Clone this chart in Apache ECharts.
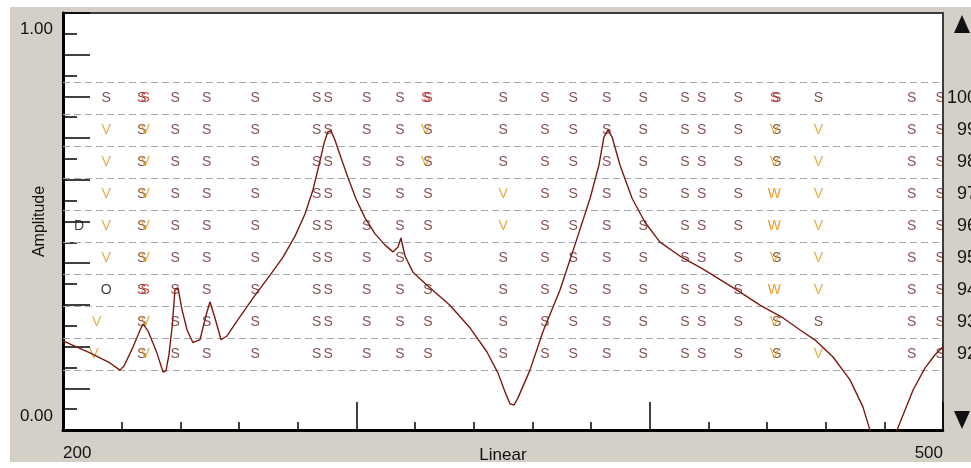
<!DOCTYPE html>
<html><head><meta charset="utf-8">
<script src="https://cdn.jsdelivr.net/npm/echarts@6/dist/echarts.min.js"></script>
<style>html,body{margin:0;padding:0;background:#fff;}#c{width:971px;height:468px;}</style>
</head><body><div id="c"></div>
<script>
// ---- data ----
const rowLabels = ['100','99','98','97','96','95','94','93','92'];           // top -> bottom
const xTickLabels = {200: '200', 500: '500'};
const yTickLabels = [[0, '0.00'], [1, '1.00']];

// marker columns: frequency and letter per row (100..92), '.' = none, 'R' = red S
const markFreqs = [205.5, 214.7, 211.5, 210.5, 226.8, 228.0, 238.2, 249.0, 265.5, 286.5,
                   290.4, 303.5, 314.9, 324.4, 323.6, 350.1, 364.3, 373.9, 385.3, 397.8,
                   412.0, 417.7, 430.2, 443.3, 442.5, 457.5, 489.3, 499.0];
const markLetters = ['....D....', 'SVVVVVO..', '.......V.', '........V', 'SSSSSSSSS',
                     'RVVVVVRVV', 'SSSSSSSSS', 'SSSSSSSSS', 'SSSSSSSSS', 'SSSSSSSSS',
                     'SSSSSSSSS', 'SSSSSSSSS', 'SSSSSSSSS', 'SSSSSSSSS', 'RVV......',
                     'SSSVVSSSS', 'SSSSSSSSS', 'SSSSSSSSS', 'SSSSSSSSS', 'SSSSSSSSS',
                     'SSSSSSSSS', 'SSSSSSSSS', 'SSSSSSSSS', 'SSS..S.SS', 'RVVWWVWVV',
                     'SVVVVVVSV', 'SSSSSSSSS', 'SSSSSSSSS'];

const curveFreq = [200.0, 209.2, 216.0, 219.4, 220.8, 223.9, 226.3, 227.3, 229.0, 232.0,
  234.1, 235.1, 236.1, 237.2, 238.2, 239.2, 240.6, 242.3, 244.3, 246.7,
  248.8, 250.1, 251.8, 253.9, 255.9, 260.3, 265.5, 270.6, 275.0, 279.1,
  282.5, 285.2, 287.3, 289.0, 290.3, 291.4, 292.7, 294.8, 297.2, 299.9,
  303.0, 306.4, 309.8, 312.5, 314.2, 315.2, 316.6, 319.3, 324.4, 331.9,
  338.8, 344.5, 348.3, 350.7, 352.4, 353.8, 355.1, 359.2, 363.6, 369.4,
  374.5, 379.7, 382.7, 384.4, 385.8, 387.2, 389.9, 394.0, 398.4, 403.5,
  410.3, 418.2, 429.8, 437.6, 445.5, 451.3, 456.4, 462.5, 468.3, 472.7,
  475.1, 479.2, 484.3, 489.8, 493.9, 497.3, 500.0];
const curveAmp = [0.182, 0.150, 0.123, 0.104, 0.115, 0.166, 0.211, 0.227, 0.208, 0.150,
  0.099, 0.102, 0.144, 0.219, 0.320, 0.323, 0.264, 0.211, 0.177, 0.185,
  0.251, 0.286, 0.243, 0.185, 0.195, 0.246, 0.304, 0.357, 0.405, 0.461,
  0.520, 0.584, 0.651, 0.709, 0.739, 0.741, 0.717, 0.669, 0.616, 0.560,
  0.509, 0.467, 0.437, 0.419, 0.432, 0.456, 0.408, 0.365, 0.328, 0.277,
  0.216, 0.153, 0.096, 0.046, 0.014, 0.011, 0.030, 0.104, 0.206, 0.317,
  0.437, 0.562, 0.650, 0.725, 0.744, 0.725, 0.650, 0.562, 0.498, 0.445,
  0.408, 0.373, 0.317, 0.277, 0.243, 0.211, 0.184, 0.139, 0.078, 0.006,
  -0.056, -0.162, -0.056, 0.051, 0.110, 0.145, 0.166];

// ---- styles ----
const FONT = '"Liberation Sans", Arial, sans-serif';
const GRAY = '#d4d0c8';
const letterStyle = {
  S: {text: 'S', color: '#6a2424'},
  R: {text: 'S', color: '#d21e1e'},
  V: {text: 'V', color: '#d99e14'},
  W: {text: 'W', color: '#e88400'},
  O: {text: 'O', color: '#111'},
  D: {text: 'D', color: '#111'}
};

const rowCats = rowLabels.slice().reverse();
const markSeries = Object.keys(letterStyle).map(code => {
  const data = [];
  markFreqs.forEach((f, i) => {
    for (let j = 0; j < rowLabels.length; j++) {
      if (markLetters[i][j] === code) data.push([f, rowLabels[j]]);
    }
  });
  return {
    type: 'scatter', xAxisIndex: 2, yAxisIndex: 2, z: 2, silent: true, clip: false,
    symbol: 'circle', symbolSize: 1, itemStyle: {color: 'rgba(0,0,0,0)'},
    label: {show: true, position: 'inside', formatter: letterStyle[code].text,
            color: letterStyle[code].color, fontSize: 14, fontFamily: FONT, offset: [0, 2]},
    labelLayout: {hideOverlap: false},
    data
  };
});

const chart = echarts.init(document.getElementById('c'), null, {renderer: 'canvas'});
const option = {
  backgroundColor: GRAY,
  animation: false,
  textStyle: {fontFamily: FONT},
  grid: [
    {left: 63, right: 28, top: 13, bottom: 38, show: true, backgroundColor: '#fff',
     borderColor: '#3c3c3c', borderWidth: 2, containLabel: false, outerBoundsMode: 'none'},
    {left: 63, right: 28, top: 82, height: 288, show: false, containLabel: false, outerBoundsMode: 'none'}
  ],
  xAxis: [
    {gridIndex: 0, type: 'value', min: 200, max: 500, interval: 20, position: 'bottom',
     axisLine: {show: true, onZero: false, lineStyle: {color: '#000', width: 3}},
     axisTick: {show: true, inside: true, length: 8, lineStyle: {color: '#000', width: 1.5}},
     splitLine: {show: false},
     axisLabel: {show: true, margin: 15, fontSize: 17, color: '#111', fontFamily: FONT,
                 formatter: v => xTickLabels[Math.round(v)] && Math.abs(v - Math.round(v)) < 1e-6 ? xTickLabels[Math.round(v)] : '',
                 alignMinLabel: 'left', alignMaxLabel: 'right'},
     name: 'Linear', nameLocation: 'middle', nameGap: 25, nameMoveOverlap: false,
     nameTextStyle: {fontSize: 17, color: '#111', fontFamily: FONT, verticalAlign: 'middle'}},
    {gridIndex: 0, type: 'value', min: 200, max: 500, interval: 100, position: 'bottom',
     axisLine: {show: false, onZero: false},
     axisTick: {show: true, inside: true, length: 28, lineStyle: {color: '#000', width: 1.5}},
     axisLabel: {show: false}, splitLine: {show: false}},
    {gridIndex: 1, type: 'value', min: 200, max: 500, show: false}
  ],
  yAxis: [
    {gridIndex: 0, type: 'value', min: -1/18, max: 19/18, interval: 1/18, position: 'left',
     axisLine: {show: true, onZero: false, lineStyle: {color: '#000', width: 3}},
     axisTick: {show: true, inside: true, length: 14, lineStyle: {color: '#000', width: 1.5}},
     splitLine: {show: false},
     axisLabel: {show: true, margin: 10, fontSize: 17, color: '#111', fontFamily: FONT,
       formatter: v => {
         for (const [val, txt] of yTickLabels) {
           if (Math.abs(v - val) < 1e-6) return (val === 0 ? '{lo|' : '{hi|') + txt + '}';
         }
         return '';
       },
       rich: {lo: {fontSize: 17, color: '#111', fontFamily: FONT, padding: [14, 0, 0, 0]},
              hi: {fontSize: 17, color: '#111', fontFamily: FONT, padding: [0, 0, 9, 0]}}},
     name: 'Amplitude', nameLocation: 'middle', nameGap: 23, nameMoveOverlap: false,
     nameTextStyle: {fontSize: 16, color: '#111', fontFamily: FONT, verticalAlign: 'middle'}},
    {gridIndex: 0, type: 'value', min: 0, max: 20, interval: 2, position: 'left',
     axisLine: {show: false, onZero: false},
     axisTick: {show: true, inside: true, length: 27, lineStyle: {color: '#000', width: 1.5}},
     axisLabel: {show: false}, splitLine: {show: false}},
    {gridIndex: 1, type: 'category', data: rowCats, position: 'right', z: 1,
     axisLine: {show: false}, axisTick: {show: false}, axisLabel: {show: false},
     splitLine: {show: true, interval: 0, lineStyle: {color: '#a2a8b2', width: 1, type: [7, 4]}}},
    {gridIndex: 1, type: 'category', data: rowCats, position: 'right', z: 10,
     axisLine: {show: false}, axisTick: {show: false}, splitLine: {show: false},
     axisLabel: {show: true, interval: 0, margin: 34, align: 'right', fontSize: 18,
                 color: '#111', fontFamily: FONT}}
  ],
  series: markSeries.concat([
    {type: 'line', xAxisIndex: 0, yAxisIndex: 0, z: 3, silent: true, clip: true,
     showSymbol: false, symbol: 'none',
     lineStyle: {color: '#7d1a10', width: 1.4},
     data: curveFreq.map((f, i) => [f, curveAmp[i]])}
  ]),
  graphic: [
    {type: 'rect', shape: {x: 944.5, y: 0, width: 30, height: 468}, style: {fill: GRAY}, z: 5, silent: true},
    {type: 'rect', shape: {x: 0, y: 0, width: 10, height: 468}, style: {fill: '#fff'}, z: 20, silent: true},
    {type: 'rect', shape: {x: 0, y: 0, width: 971, height: 7}, style: {fill: '#fff'}, z: 20, silent: true},
    {type: 'rect', shape: {x: 0, y: 462, width: 971, height: 6}, style: {fill: '#fff'}, z: 20, silent: true},
    {type: 'polygon', shape: {points: [[954, 33], [962, 15], [970, 33]]}, style: {fill: '#111'}, z: 21, silent: true},
    {type: 'polygon', shape: {points: [[954, 411], [970, 411], [962, 429]]}, style: {fill: '#111'}, z: 21, silent: true}
  ]
};
chart.setOption(option);
</script>
</body></html>
